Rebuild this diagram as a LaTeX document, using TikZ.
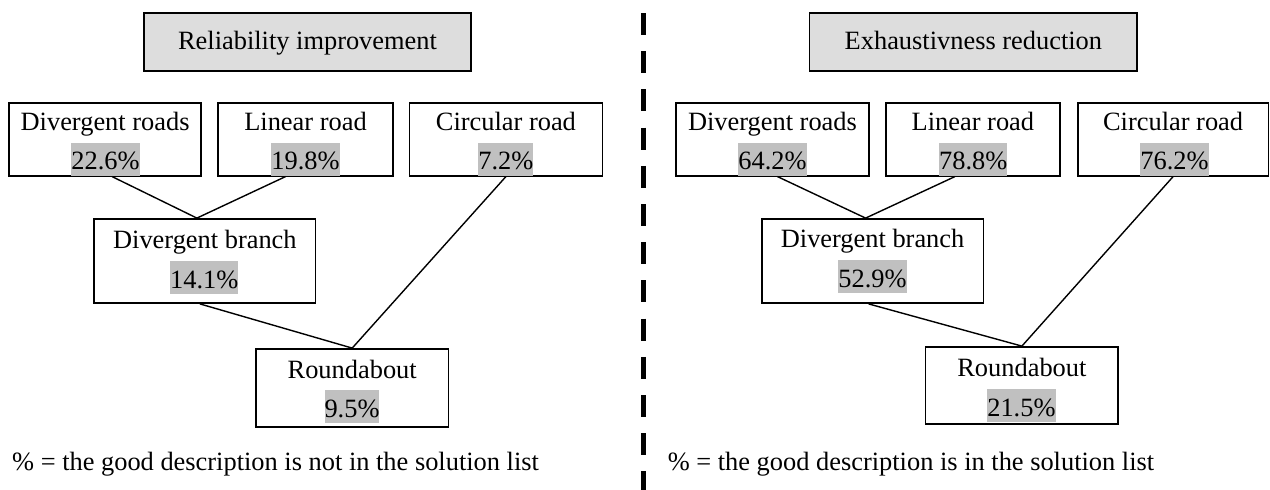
\documentclass[tikz,border=0pt]{standalone}
\usepackage{fontspec}
\setmainfont{Liberation Serif}
\usetikzlibrary{calc}
\definecolor{titlegray}{HTML}{DDDDDD}
\definecolor{hlgray}{HTML}{C0C0C0}
\begin{document}
\begin{tikzpicture}[x=1pt,y=-1pt,
  every node/.style={font=\fontsize{26.4}{31}\selectfont, inner sep=0pt},
  titlebox/.style={draw, fill=titlegray, line width=1.8pt, minimum height=58pt, minimum width=327.7pt, text height=18pt, text depth=4pt},
  roadbox/.style={draw, line width=1.8pt},
  lbl/.style={anchor=base},
  pctbox/.style={anchor=base, fill=hlgray, text height=27pt, text depth=6pt},
  link/.style={line width=1.4pt},
  note/.style={anchor=base west}]
\useasboundingbox (0,0) rectangle (1270,490);

% ---------- left panel ----------
\node[titlebox] (title1) at (307.5,42) {Reliability improvement};

\node[roadbox, minimum width=192.2pt, minimum height=73pt] (dr) at (105.1,139.2) {};
\node[lbl] (drn) at (105.1,130) {Divergent roads};
\node[pctbox] (drp) at (105.5,169.5) {22.6\%};

\node[roadbox, minimum width=174.3pt, minimum height=73pt] (lr) at (305.5,139.2) {};
\node[lbl] (lrn) at (305.5,130) {Linear road};
\node[pctbox] (lrp) at (305.5,169.5) {19.8\%};

\node[roadbox, minimum width=193pt, minimum height=73pt] (cr) at (505.9,139.2) {};
\node[lbl] (crn) at (505.9,130) {Circular road};
\node[pctbox] (crp) at (505.9,169.5) {7.2\%};

\node[roadbox, minimum width=221.2pt, minimum height=84pt] (db) at (204.9,261) {};
\node[lbl] (dbn) at (204.9,248.5) {Divergent branch};
\node[pctbox] (dbp) at (204.3,288) {14.1\%};

\node[roadbox, minimum width=192.7pt, minimum height=78pt] (rb) at (352.2,388) {};
\node[lbl] (rbn) at (352.2,378.3) {Roundabout};
\node[pctbox] (rbp) at (352,417.3) {9.5\%};

\draw[link] ([xshift=7pt]dr.south) -- ([xshift=-8pt]db.north);
\draw[link] ([xshift=-20pt]lr.south) -- ([xshift=-8pt]db.north);
\draw[link] (cr.south) -- (rb.north);
\draw[link] ([xshift=-5pt]db.south) -- (rb.north);

\node[note] (note1) at (12,470) {\% = the good description is not in the solution list};

% ---------- separator ----------
\coordinate (dtop) at (643,13);
\coordinate (dbot) at (643,490);
\draw[line width=5pt, dash pattern=on 22pt off 16.2pt] (dtop) -- (dbot);

% ---------- right panel ----------
\node[titlebox] (title2) at (973.4,42) {Exhaustivness reduction};

\node[roadbox, minimum width=192.7pt, minimum height=73pt] (dr2) at (772.5,139.2) {};
\node[lbl] (dr2n) at (772.5,130) {Divergent roads};
\node[pctbox] (dr2p) at (772.5,169.5) {64.2\%};

\node[roadbox, minimum width=173.9pt, minimum height=73pt] (lr2) at (972.9,139.2) {};
\node[lbl] (lr2n) at (972.9,130) {Linear road};
\node[pctbox] (lr2p) at (973.3,169.5) {78.8\%};

\node[roadbox, minimum width=190.8pt, minimum height=73pt] (cr2) at (1173.1,139.2) {};
\node[lbl] (cr2n) at (1173.1,130) {Circular road};
\node[pctbox] (cr2p) at (1174.5,169.5) {76.2\%};

\node[roadbox, minimum width=221.7pt, minimum height=84pt] (db2) at (872.6,261) {};
\node[lbl] (db2n) at (872.6,247.5) {Divergent branch};
\node[pctbox] (db2p) at (872.5,287) {52.9\%};

\node[roadbox, minimum width=192.7pt, minimum height=77pt] (rb2) at (1021.9,385.5) {};
\node[lbl] (rb2n) at (1021.9,376.5) {Roundabout};
\node[pctbox] (rb2p) at (1021.4,416) {21.5\%};

\draw[link] ([xshift=5pt]dr2.south) -- ([xshift=-7pt]db2.north);
\draw[link] ([xshift=-18pt]lr2.south) -- ([xshift=-7pt]db2.north);
\draw[link] (cr2.south) -- (rb2.north);
\draw[link] ([xshift=-4pt]db2.south) -- (rb2.north);

\node[note] (note2) at (667.6,470) {\% = the good description is in the solution list};
\end{tikzpicture}
\end{document}
